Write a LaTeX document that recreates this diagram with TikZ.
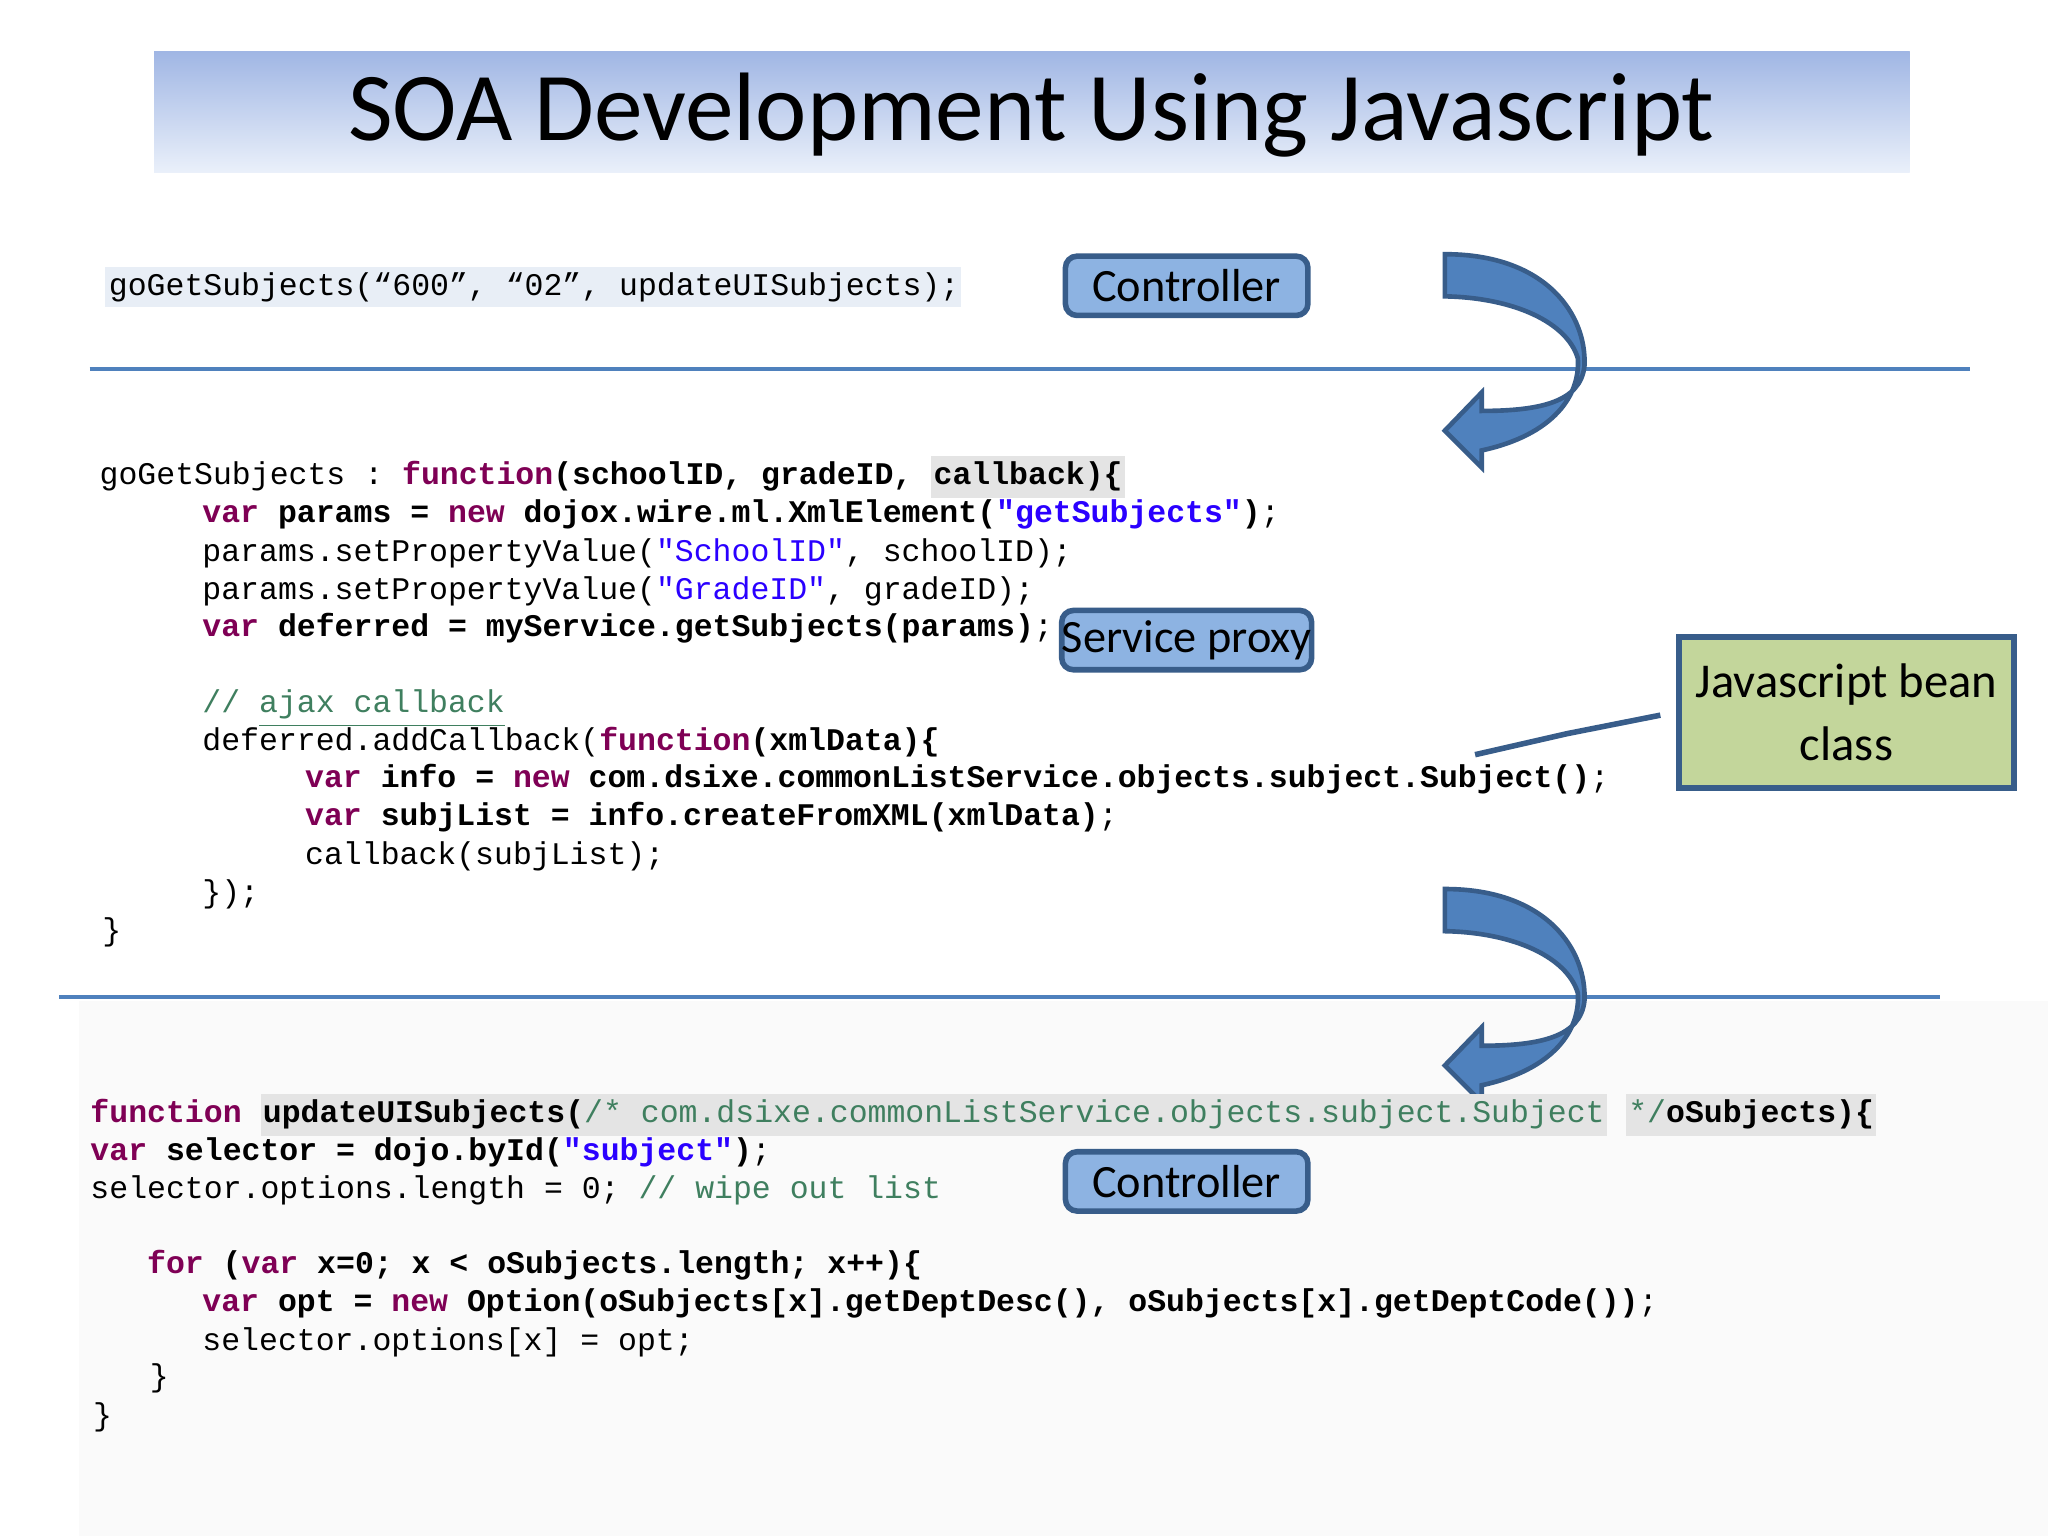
\documentclass[tikz,border=0pt]{standalone}
\usepackage{fontspec}
\setmainfont{Carlito}
\setmonofont{Liberation Mono}
\definecolor{kwc}{HTML}{7F0055}
\definecolor{stc}{HTML}{2A00FF}
\definecolor{cmc}{HTML}{3F7F5F}
\definecolor{hlg}{HTML}{E4E4E4}
\definecolor{hlb}{HTML}{E8EEF6}
\definecolor{lblue}{HTML}{4F81BD}
\definecolor{dblue}{HTML}{385D8A}
\definecolor{boxblue}{HTML}{8DB3E2}
\definecolor{boxgreen}{HTML}{C3D69B}
\newcommand{\kwd}[1]{\textbf{\color{kwc}#1}}
\newcommand{\strg}[1]{\textbf{\color{stc}#1}}
\newcommand{\strn}[1]{{\color{stc}#1}}
\newcommand{\cmt}[1]{{\color{cmc}#1}}
\newcommand{\hlgr}[1]{{\setlength{\fboxsep}{0.5pt}\colorbox{hlg}{\strut #1}}}
\begin{document}
\begin{tikzpicture}[x=0.01cm,y=-0.01cm,
  code/.style={anchor=base west,inner sep=0pt,font=\ttfamily\fontsize{6.8}{8}\selectfont},
  tag/.style={draw=dblue,line width=1.2pt,rounded corners=2.5pt,fill=boxblue,font=\fontsize{10}{12}\selectfont,minimum width=1.84cm,minimum height=0.45cm,inner sep=0pt},
  sep/.style={draw=lblue,line width=0.8pt},
  barrow/.style={fill=lblue,draw=dblue,line width=1pt}]
\useasboundingbox (0,0) rectangle (1555,1166);
\fill[white] (0,0) rectangle (1555,1166);
\fill[gray!4] (60,760) rectangle (1555,1166);
% title
\shade[top color=blue!25!cyan!20!gray!60,bottom color=blue!5!white] (117,39) rectangle (1450,131);
\shade[top color={rgb,255:red,160;green,182;blue,228},bottom color={rgb,255:red,234;green,240;blue,250}] (117,39) rectangle (1450,131);
\node[font=\fontsize{21}{25}\selectfont] (title) at (783,87) {SOA Development Using Javascript};
% separators
\draw[sep] (68,280) -- (1496,280);
\draw[sep] (45,757) -- (1473,757);
% tags
\node[tag] (c1) at (901,217) {Controller};
\node[tag] (sp) at (901,486) {Service proxy};
\node[tag] (c2) at (901,897) {Controller};
\node[draw=dblue,line width=1.3pt,fill=boxgreen,minimum width=2.54cm,minimum height=1.15cm,align=center,font=\fontsize{10.5}{13.5}\selectfont] (bean) at (1402,541) {Javascript bean\\class};
\coordinate (bend) at (1190,557);
\coordinate (bt) at (1120,573);
\draw[dblue,line width=1.2pt] (bean.west) ++(-12,2) -- (bend) -- (bt);
% curved arrows
\foreach \dy/\nm in {0/a1,482/a2}{
\begin{scope}[yshift=-\dy*0.01cm]
\path[barrow] (1097,193) .. controls (1175,193) and (1205,240) .. (1203,278)
  .. controls (1200,305) and (1170,312) .. (1125,312) -- (1125,298) -- (1097,327) -- (1125,355) -- (1125,342)
  .. controls (1180,330) and (1200,300) .. (1198,272)
  .. controls (1190,245) and (1150,226) .. (1097,225) -- cycle;
\end{scope}}
% line 1
\fill[hlb] (80,203) rectangle (730,233);
\node[code] (l0) at (82,224) {goGetSubjects(“600”, “02”, updateUISubjects);};
% middle code
\node[code] (m1) at (75,368) {goGetSubjects : \kwd{function}\textbf{(schoolID, gradeID, \hlgr{callback)\{}}};
\node[code] (m2) at (153,397) {\kwd{var} \textbf{params = }\kwd{new} \textbf{dojox.wire.ml.XmlElement(}\strg{"getSubjects"}\textbf{)};};
\node[code] (m3) at (153,426) {params.setPropertyValue(\strn{"SchoolID"}, schoolID);};
\node[code] (m4) at (153,455) {params.setPropertyValue(\strn{"GradeID"}, gradeID);};
\node[code] (m5) at (153,483) {\kwd{var} \textbf{deferred = myService.getSubjects(params)};};
\node[code] (m6) at (153,541) {\cmt{// \underline{ajax callback}}};
\node[code] (m7) at (153,570) {deferred.addCallback(\kwd{function}\textbf{(xmlData)\{}};
\node[code] (m8) at (231,598) {\kwd{var} \textbf{info = }\kwd{new} \textbf{com.dsixe.commonListService.objects.subject.Subject()};};
\node[code] (m9) at (231,627) {\kwd{var} \textbf{subjList = info.createFromXML(xmlData)};};
\node[code] (m10) at (231,656) {callback(subjList);};
\node[code] (m11) at (153,685) {\});};
\node[code] (m12) at (77,714) {\}};
% bottom code
\node[code] (b1) at (68,852) {\kwd{function} \hlgr{\textbf{updateUISubjects(}\cmt{/* com.dsixe.commonListService.objects.subject.Subject}} \hlgr{\cmt{*/}\textbf{oSubjects)\{}}};
\node[code] (b2) at (68,881) {\kwd{var} \textbf{selector = dojo.byId(}\strg{"subject"}\textbf{)};};
\node[code] (b3) at (68,910) {selector.options.length = 0; \cmt{// wipe out list}};
\node[code] (b4) at (111,967) {\kwd{for} \textbf{(}\kwd{var} \textbf{x=0; x < oSubjects.length; x++)\{}};
\node[code] (b5) at (153,996) {\kwd{var} \textbf{opt = }\kwd{new} \textbf{Option(oSubjects[x].getDeptDesc(), oSubjects[x].getDeptCode())};};
\node[code] (b6) at (153,1025) {selector.options[x] = opt;};
\node[code] (b7) at (113,1053) {\}};
\node[code] (b8) at (70,1082) {\}};
\end{tikzpicture}
\end{document}
